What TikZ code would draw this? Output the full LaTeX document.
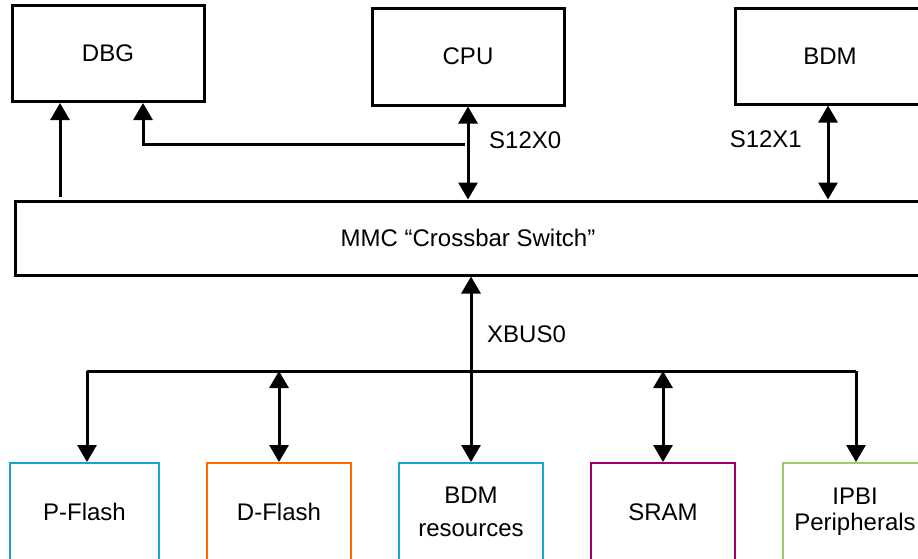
\documentclass[tikz,border=0pt]{standalone}
\usepackage{fontspec}
\setmainfont{Liberation Sans}
\usetikzlibrary{arrows.meta}
\definecolor{cyanb}{HTML}{1BA1D5}
\definecolor{orangeb}{HTML}{FF6A00}
\definecolor{magb}{HTML}{990066}
\definecolor{greenb}{HTML}{99CC66}
\begin{document}
\begin{tikzpicture}[x=1pt,y=-1pt,
  font=\fontsize{24}{29}\selectfont,
  blk/.style={draw=black, line width=3pt, fill=white, inner sep=0pt},
  cbox/.style={draw=#1, line width=2pt, fill=white, inner sep=0pt, minimum width=144pt, minimum height=98pt, align=center},
  conn/.style={line width=3pt, draw=black},
  tip/.style={conn, -{Triangle[width=19pt,length=17pt]}},
  dtip/.style={conn, {Triangle[width=19pt,length=17pt]}-{Triangle[width=19pt,length=17pt]}},
  lbl/.style={inner sep=0pt}]
\useasboundingbox (0,0) rectangle (918,558);
\clip (0,0) rectangle (918,558);
\fill[white] (0,0) rectangle (918,558);

% top boxes
\node[blk, minimum width=192pt, minimum height=96pt] (dbg) at (108,53.5) {DBG};
\node[blk, minimum width=192pt, minimum height=97pt] (cpu) at (468,56.5) {CPU};
\node[blk, minimum width=190pt, minimum height=96pt] (bdm) at (830,56) {BDM};
\node[blk, minimum width=906pt, minimum height=74pt] (mmc) at (468,238) {MMC “Crossbar Switch”};

% bottom boxes
\node[cbox=cyanb, minimum width=149pt] (pf) at (84.5,512) {P-Flash};
\node[cbox=orangeb] (df) at (279,512) {D-Flash};
\node[cbox=cyanb] (br) at (471,512) {BDM\\[4pt]resources};
\node[cbox=magb] (sr) at (663,512) {SRAM};
\node[cbox=greenb] (ip) at (855,512) {IPBI\\[-3pt]Peripherals};

% labels
\node[lbl, anchor=west] (l0) at (489,140) {S12X0};
\node[lbl, anchor=east] (l1) at (802,139) {S12X1};
\node[lbl, anchor=west] (lx) at (487,334) {XBUS0};

% upper connectors
\coordinate (d1) at (60,197);
\draw[tip] (d1) -- (d1 |- dbg.south);
\coordinate (j) at (465,144);
\draw[tip] (j) -| ([xshift=35pt]dbg.south);
\draw[dtip] (cpu.south) -- (cpu.south |- mmc.north);
\draw[dtip] ([xshift=-2pt]bdm.south) -- ([xshift=-2pt]bdm.south |- mmc.north);

% bus
\coordinate (busL) at (87,371);
\coordinate (busR) at (856,371);
\draw[conn] (busL) -- (busR);
\draw[tip] (busL) -- (busL |- pf.north);
\draw[tip] (busR) -- (busR |- ip.north);
\draw[dtip] (df.north |- busL) -- (df.north);
\draw[dtip] (sr.north |- busL) -- (sr.north);
\draw[dtip] (br.north |- mmc.south) -- (br.north);
\end{tikzpicture}
\end{document}
